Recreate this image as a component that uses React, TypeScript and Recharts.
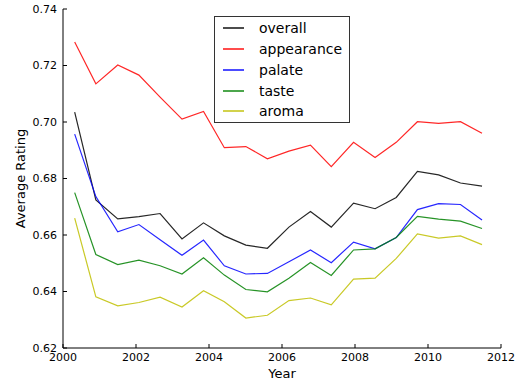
import React from "react";
import {
  LineChart,
  Line,
  XAxis,
  YAxis,
  Legend,
} from "recharts";

const years = [
  2000.32, 2000.9, 2001.5, 2002.08, 2002.66, 2003.26, 2003.85, 2004.42,
  2005.01, 2005.6, 2006.19, 2006.78, 2007.35, 2007.96, 2008.55, 2009.13,
  2009.71, 2010.29, 2010.89, 2011.48,
];

const overall = [
  0.7035, 0.6724, 0.6657, 0.6665, 0.6676, 0.6586, 0.6643, 0.6597, 0.6564,
  0.6553, 0.6628, 0.6683, 0.6628, 0.6713, 0.6693, 0.6733, 0.6825, 0.6813,
  0.6784, 0.6773,
];
const appearance = [
  0.7283, 0.7135, 0.7202, 0.7166, 0.7088, 0.701, 0.7037, 0.6909, 0.6913,
  0.687, 0.6897, 0.6918, 0.6842, 0.6928, 0.6874, 0.6928, 0.7001, 0.6995,
  0.7001, 0.696,
];
const palate = [
  0.6957, 0.6736, 0.6611, 0.6637, 0.6583, 0.6528, 0.6582, 0.6491, 0.6462,
  0.6464, 0.6505, 0.6547, 0.6502, 0.6575, 0.6551, 0.6591, 0.669, 0.6711,
  0.6708, 0.6653,
];
const taste = [
  0.675, 0.6531, 0.6495, 0.6511, 0.6491, 0.6462, 0.6519, 0.6458, 0.6407,
  0.6399, 0.6447, 0.6503, 0.6457, 0.6547, 0.6551, 0.6591, 0.6666, 0.6656,
  0.6649, 0.6623,
];
const aroma = [
  0.666, 0.6381, 0.6349, 0.6361, 0.638, 0.6345, 0.6403, 0.6364, 0.6306,
  0.6316, 0.6368, 0.6377, 0.6353, 0.6444, 0.6447, 0.6517, 0.6604, 0.6589,
  0.6597, 0.6566,
];

const xTicks = [2000, 2002, 2004, 2006, 2008, 2010, 2012];
const yTicks = [0.62, 0.64, 0.66, 0.68, 0.7, 0.72, 0.74];

const series = [
  { key: "overall", color: "#000000", values: overall },
  { key: "appearance", color: "#ff0000", values: appearance },
  { key: "palate", color: "#0000ff", values: palate },
  { key: "taste", color: "#008000", values: taste },
  { key: "aroma", color: "#bfbf00", values: aroma },
];

const data = years.map((year, i) => {
  const row: Record<string, number> = { year };
  series.forEach((s) => {
    row[s.key] = s.values[i];
  });
  return row;
});

const FONT = "DejaVu Sans";
const tickStyle = { fill: "#000", fontSize: 11, fontFamily: FONT };

// drawn in series order (recharts sorts the legend payload by name)
function LegendBox() {
  return (
    <div
      style={{
        boxSizing: "border-box",
        width: 136,
        height: 107,
        border: "1px solid #333",
        background: "#fff",
        paddingTop: 1,
        fontFamily: FONT,
        fontSize: 14,
        color: "#000",
      }}
    >
      {series.map((s) => (
        <div
          key={s.key}
          style={{ display: "flex", alignItems: "center", height: 20.75 }}
        >
          <div
            style={{
              marginLeft: 8,
              width: 21,
              height: 2,
              background: s.color,
              opacity: 0.7,
            }}
          />
          <span style={{ marginLeft: 15, lineHeight: "14px" }}>{s.key}</span>
        </div>
      ))}
    </div>
  );
}

export default function App() {
  return (
    <div style={{ position: "absolute", left: 0, top: 0, background: "#fff" }}>
      <LineChart
        width={519}
        height={385}
        data={data}
        margin={{ top: 9, right: 18, left: 0, bottom: 0 }}
      >
        <XAxis
          dataKey="year"
          type="number"
          domain={[2000, 2012]}
          ticks={xTicks}
          allowDataOverflow
          height={37}
          tickSize={-4}
          tickMargin={9}
          tick={tickStyle}
          stroke="#000"
          label={({ viewBox }: any) => (
            <text
              x={viewBox.x + viewBox.width / 2}
              y={viewBox.y + 30}
              textAnchor="middle"
              fontFamily={FONT}
              fontSize={13}
              fill="#000"
            >
              Year
            </text>
          )}
        />
        <XAxis
          xAxisId="top"
          dataKey="year"
          type="number"
          orientation="top"
          domain={[2000, 2012]}
          ticks={xTicks}
          allowDataOverflow
          height={0}
          tickSize={-4}
          tick={false}
          stroke="#000"
        />
        <YAxis
          type="number"
          domain={[0.62, 0.74]}
          ticks={yTicks}
          allowDataOverflow
          width={63}
          tickSize={-4}
          tickMargin={10}
          tick={tickStyle}
          tickFormatter={(v: number) => v.toFixed(2)}
          stroke="#000"
          label={({ viewBox }: any) => (
            <text
              x={20}
              y={viewBox.y + viewBox.height / 2}
              textAnchor="middle"
              dominantBaseline="central"
              transform={`rotate(-90, 20, ${viewBox.y + viewBox.height / 2})`}
              fontFamily={FONT}
              fontSize={13}
              fill="#000"
            >
              Average Rating
            </text>
          )}
        />
        <YAxis
          yAxisId="right"
          orientation="right"
          type="number"
          domain={[0.62, 0.74]}
          ticks={yTicks}
          allowDataOverflow
          width={0}
          tickSize={-4}
          tick={false}
          stroke="#000"
        />
        <Legend
          layout="vertical"
          align="center"
          verticalAlign="middle"
          content={<LegendBox />}
          wrapperStyle={{ left: 214, top: 16, width: 136, height: 107 }}
        />
        {series.map((s) => (
          <Line
            key={s.key}
            dataKey={s.key}
            name={s.key}
            stroke={s.color}
            strokeWidth={1.2}
            strokeOpacity={0.85}
            dot={false}
            activeDot={false}
            isAnimationActive={false}
          />
        ))}
      </LineChart>
    </div>
  );
}
